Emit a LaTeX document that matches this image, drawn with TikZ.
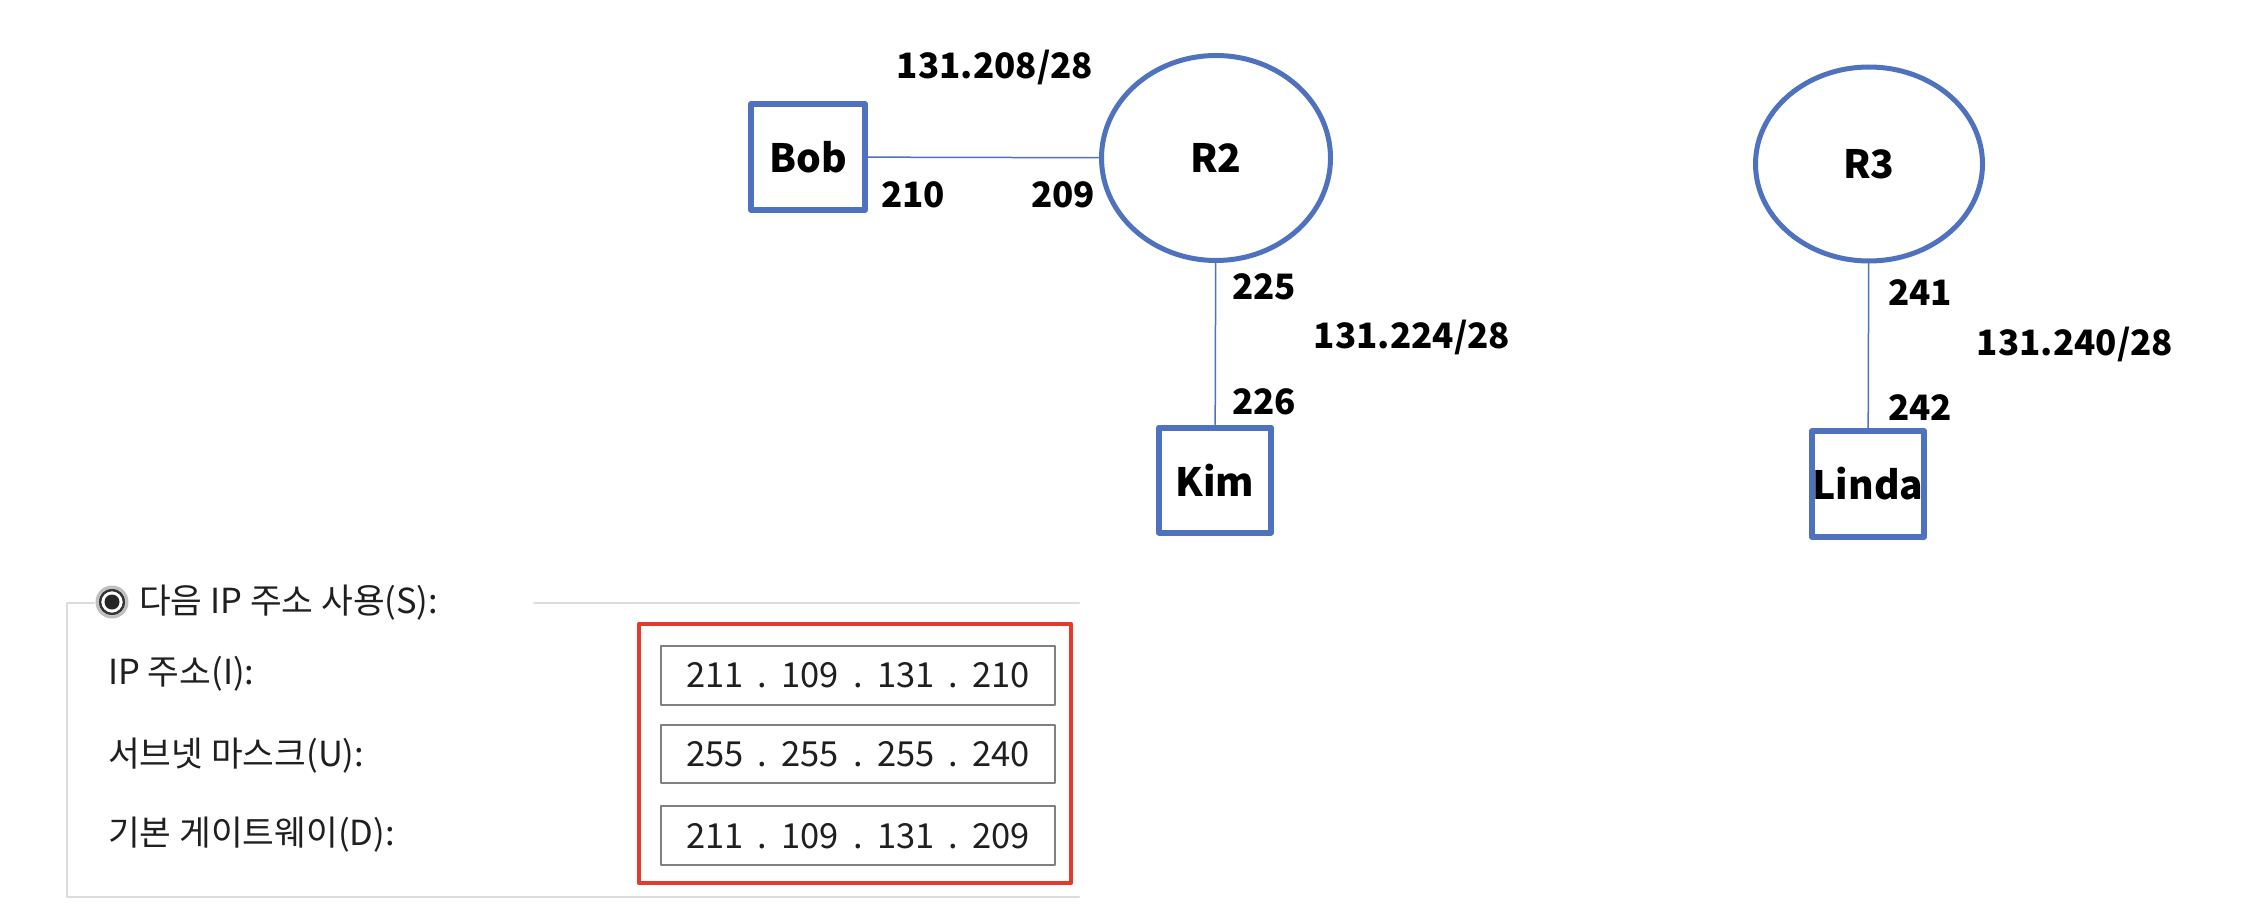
\documentclass[tikz,border=0pt]{standalone}
\usepackage{fontspec}
\newfontfamily\krfont{Noto Sans CJK KR}
\usetikzlibrary{shapes.geometric}

\definecolor{netblue}{HTML}{4F72BF}
\definecolor{boxred}{HTML}{E5392C}
\definecolor{winline}{HTML}{DCDCDC}

% four octets, dots centred between them
\newcommand\octets[4]{\makebox[95.5pt]{#1}\makebox[0pt]{.}\makebox[95.5pt]{#2}%
  \makebox[0pt]{.}\makebox[95.5pt]{#3}\makebox[0pt]{.}\makebox[95.5pt]{#4}}

\tikzset{
  router/.style={ellipse, draw=netblue, line width=5pt, inner sep=0pt,
    font=\krfont\bfseries\fontsize{39}{44}\selectfont},
  host/.style={rectangle, draw=netblue, line width=6pt, inner sep=0pt,
    font=\krfont\bfseries\fontsize{39}{44}\selectfont},
  link/.style={draw=netblue, line width=1.5pt},
  addr/.style={inner sep=0pt, font=\krfont\bfseries\fontsize{35}{40}\selectfont},
  field/.style={draw=black!50, line width=2.5pt, fill=white},
  dlgtext/.style={inner sep=0pt, text=black!88, font=\krfont\fontsize{34.5}{40}\selectfont},
}

\begin{document}
\begin{tikzpicture}[x=1pt, y=-1pt, line cap=round, line join=round]
  \fill[white] (0,0) rectangle (2250,920);
  \useasboundingbox (0,0) rectangle (2250,920);

  % Routers
  \node[router, minimum width=229, minimum height=205] (r2) at (1216,158) {R2};
  \node[router, minimum width=227, minimum height=194] (r3) at (1869,164) {R3};

  % Hosts
  \node[host, minimum width=114, minimum height=106] (bob) at (808,157) {Bob};
  \node[host, minimum width=112, minimum height=105] (kim) at (1215,480) {Kim};
  \node[host, minimum width=112, minimum height=106] (linda) at (1868,484) {Linda};

  % Links
  \draw[link] (bob) -- (r2);
  \draw[link] (r2) -- (kim);
  \draw[link] (r3) -- (linda);

  % Addresses
  \node[addr] (net208) at (995,67) {131.208/28};
  \node[addr] (a210) at (913,195) {210};
  \node[addr] (a209) at (1063,195) {209};
  \node[addr] (a225) at (1264,287) {225};
  \node[addr] (net224) at (1412,337) {131.224/28};
  \node[addr] (a226) at (1264,402) {226};
  \node[addr] (a241) at (1920,293) {241};
  \node[addr] (net240) at (2075,344) {131.240/28};
  \node[addr] (a242) at (1920,408) {242};

  % Dialog frame
  \draw[winline, line width=2pt] (94,603) -- (67,603) -- (67,897) -- (1079,897);
  \draw[winline, line width=2pt] (534,603) -- (1079,603);

  % Radio button
  \draw[black!25, line width=3pt] (112,602) circle (15);
  \draw[black!80, line width=2.5pt] (112,602) circle (12);
  \fill[black!85] (112,602) circle (7.5);
  \node[dlgtext, anchor=west] (title) at (139,603) {다음 IP 주소 사용(S):};

  % Field labels
  \node[dlgtext, anchor=west] (ipl) at (108,674) {IP 주소(I):};
  \node[dlgtext, anchor=west] (maskl) at (108,756) {서브넷 마스크(U):};
  \node[dlgtext, anchor=west] (gwl) at (108,835) {기본 게이트웨이(D):};

  % Fields
  \draw[field] (661,646) rectangle (1055,705);
  \draw[field] (661,725) rectangle (1055,783);
  \draw[field] (661,806) rectangle (1055,865);
  \node[dlgtext] (ip) at (858,675) {\octets{211}{109}{131}{210}};
  \node[dlgtext] (mask) at (858,754) {\octets{255}{255}{255}{240}};
  \node[dlgtext] (gw) at (858,836) {\octets{211}{109}{131}{209}};

  % Highlight
  \draw[boxred, line width=4.5pt] (639,624) rectangle (1071,883);
\end{tikzpicture}
\end{document}
